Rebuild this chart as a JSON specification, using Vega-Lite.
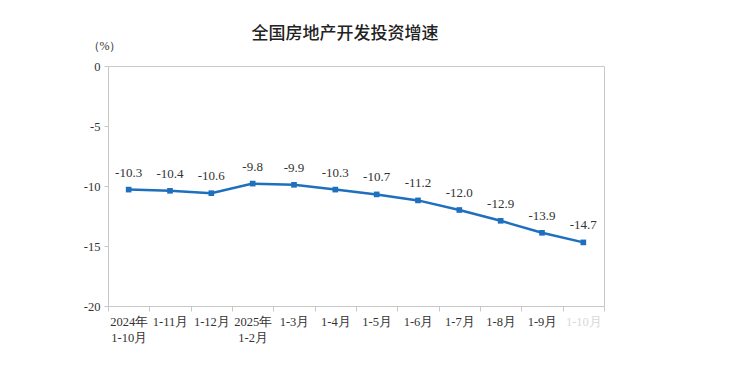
{
  "$schema": "https://vega.github.io/schema/vega-lite/v6.json",
  "autosize": "none",
  "width": 496,
  "height": 240,
  "padding": {"left": 108, "top": 66, "right": 132, "bottom": 72},
  "background": "white",
  "title": {
    "text": "全国房地产开发投资增速",
    "font": "Noto Sans CJK SC",
    "fontSize": 17,
    "fontWeight": 500,
    "color": "#222",
    "anchor": "middle",
    "dx": -11,
    "offset": -4
  },
  "config": {
    "view": {"stroke": "#c8c8c8", "strokeWidth": 1},
    "axis": {"labelFont": "Liberation Serif", "labelFontSize": 12.5, "labelColor": "#333", "domainColor": "#c8c8c8", "tickColor": "#c8c8c8", "grid": false}
  },
  "data": {
    "values": [
      {"period": "2024年\n1-10月", "value": -10.3},
      {"period": "1-11月", "value": -10.4},
      {"period": "1-12月", "value": -10.6},
      {"period": "2025年\n1-2月", "value": -9.8},
      {"period": "1-3月", "value": -9.9},
      {"period": "1-4月", "value": -10.3},
      {"period": "1-5月", "value": -10.7},
      {"period": "1-6月", "value": -11.2},
      {"period": "1-7月", "value": -12.0},
      {"period": "1-8月", "value": -12.9},
      {"period": "1-9月", "value": -13.9},
      {"period": "1-10月 ", "value": -14.7}
    ]
  },
  "encoding": {
    "x": {
      "field": "period",
      "type": "ordinal",
      "sort": null,
      "bandPosition": 0.5,
      "scale": {"type": "band", "paddingInner": 0, "paddingOuter": 0},
      "axis": {
        "title": null,
        "labelAngle": 0,
        "tickBand": "extent",
        "tickSize": 5,
        "labelPadding": 4,
        "labelLineHeight": 16,
        "labelBaseline": "top",
        "labelExpr": "split(datum.label, '\\n')",
        "labelColor": {"condition": {"test": "datum.index == 1", "value": "#d8d8d8"}, "value": "#333"}
      }
    },
    "y": {
      "field": "value",
      "type": "quantitative",
      "scale": {"domain": [-20, 0], "nice": false},
      "axis": {
        "values": [0, -5, -10, -15, -20],
        "labelExpr": "toString(datum.value)",
        "tickSize": 4,
        "labelPadding": 4,
        "title": "（%）",
        "titleAngle": 0,
        "titleFont": "Liberation Serif",
        "titleFontSize": 12,
        "titleFontWeight": "normal",
        "titleColor": "#333",
        "titleAlign": "center",
        "titleBaseline": "middle",
        "titleX": -4,
        "titleY": -21
      }
    }
  },
  "layer": [
    {
      "mark": {"type": "line", "color": "#1f6fbf", "strokeWidth": 2.5}
    },
    {
      "mark": {"type": "point", "shape": "square", "filled": true, "color": "#1f6fbf", "size": 32, "opacity": 1}
    },
    {
      "mark": {"type": "text", "font": "Liberation Serif", "fontSize": 13, "color": "#333", "dy": -17, "text": {"expr": "replace(format(datum.value, '.1f'), '\u2212', '-')"}}
    }
  ]
}
